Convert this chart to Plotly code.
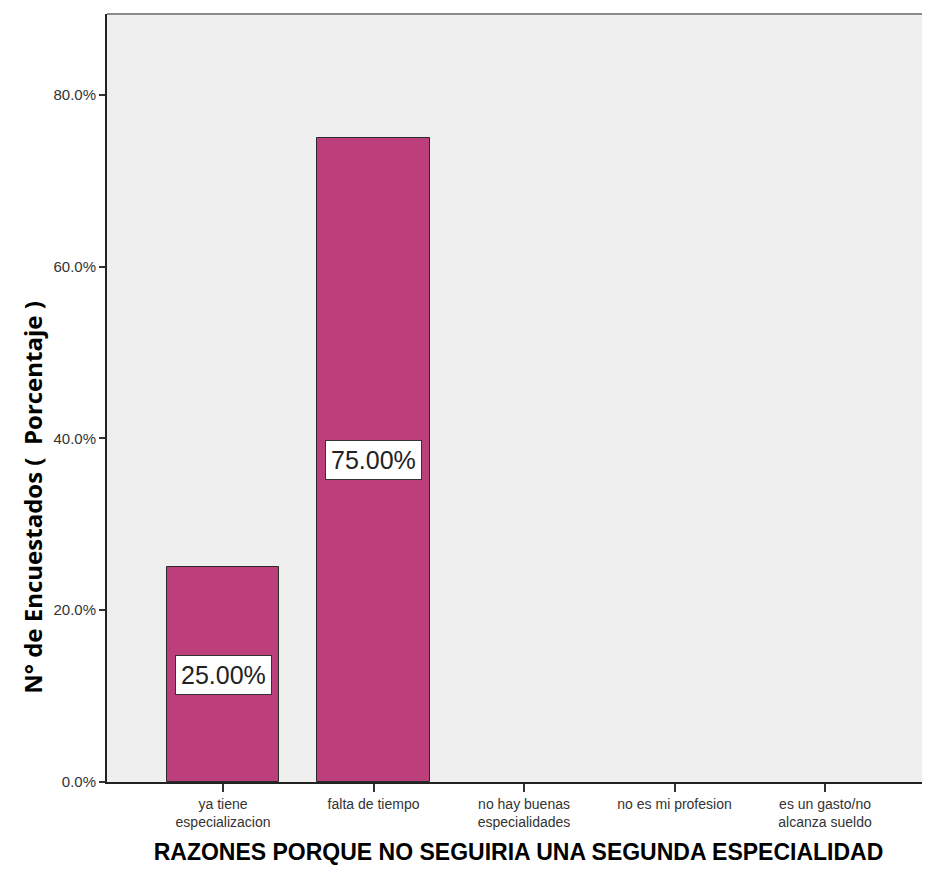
import plotly.graph_objects as go

categories = ["ya tiene<br>especializacion", "falta de tiempo", "no hay buenas<br>especialidades",
              "no es mi profesion", "es un gasto/no<br>alcanza sueldo"]
values = [25.0, 75.0, 0.0, 0.0, 0.0]
y_ticks = [0, 20, 40, 60, 80]
x_title = "RAZONES PORQUE NO SEGUIRIA UNA SEGUNDA ESPECIALIDAD"
y_title = "N° de Encuestados (  Porcentaje )"

xs = list(range(len(categories)))
y_ticktext = [f"{t:.1f}%" for t in y_ticks]

FONT = "Liberation Sans, Arial"
FIG_W = 922
MARGIN_L = 99
PX_PER_CAT = 150.5
x_lo = -0.771
x_hi = x_lo + (FIG_W - MARGIN_L) / PX_PER_CAT

fig = go.Figure()
fig.add_trace(go.Bar(
    x=xs, y=values, width=0.75,
    marker=dict(color="#BC3F7C",
                line=dict(color="#2a2a2a", width=[1 if v > 0 else 0 for v in values])),
    hoverinfo="skip",
))

for x, v in zip(xs, values):
    if v > 0:
        fig.add_annotation(
            x=x, y=v / 2, xref="x", yref="y", text=f"{v:.2f}%", showarrow=False,
            font=dict(family=FONT, size=25, color="#222"),
            bgcolor="white", bordercolor="#333", borderwidth=1, borderpad=5,
        )

fig.add_annotation(
    x=0, xref="paper", xanchor="center", y=0.37, yref="paper", yanchor="middle",
    xshift=-74, text=f"<b>{y_title}</b>", textangle=-90, showarrow=False,
    font=dict(family="Open Sans, Noto Sans", size=24, color="#000"),
)

fig.add_shape(type="line", xref="paper", yref="paper", x0=0, x1=1, y0=1, y1=1,
              line=dict(color="#8a8a8a", width=2))

fig.update_layout(
    width=FIG_W, height=863,
    margin=dict(l=MARGIN_L, r=0, t=6, b=89, autoexpand=False),
    paper_bgcolor="white", plot_bgcolor="#EFEFEF",
    showlegend=False, bargap=0,
    font=dict(family=FONT, color="#333"),
)
fig.update_xaxes(
    tickmode="array", tickvals=xs, ticktext=categories,
    range=[x_lo, x_hi], showgrid=False, zeroline=False,
    showline=True, linecolor="#222", linewidth=2,
    ticks="outside", ticklen=8, tickcolor="#333", tickwidth=2,
    tickfont=dict(size=14, color="#333"),
    title=dict(text=f"<b>{x_title}</b>", standoff=15,
               font=dict(family=FONT, size=23, color="#000")),
)
fig.update_yaxes(
    range=[0, 89.4], tickmode="array", tickvals=y_ticks, ticktext=y_ticktext,
    showgrid=False, zeroline=False,
    showline=True, linecolor="#222", linewidth=2,
    ticks="outside", ticklen=6, tickcolor="#333", tickwidth=2,
    tickfont=dict(size=15, color="#333"),
)

fig.write_html("out.html")
